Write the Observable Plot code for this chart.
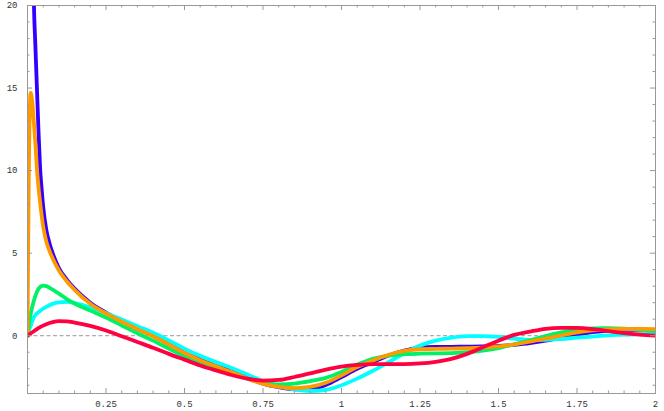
<!DOCTYPE html>
<html>
<head>
<meta charset="utf-8">
<script src="https://cdn.jsdelivr.net/npm/d3@7"></script>
<script src="https://cdn.jsdelivr.net/npm/@observablehq/plot@0.6"></script>
<style>
  html, body { margin: 0; padding: 0; background: #fff; }
</style>
</head>
<body>
<div id="chart"></div>
<script>
// ---- data ----
const tailX = [0.25,0.3,0.35,0.4,0.45,0.5,0.55,0.6,0.65,0.7,0.75,0.8,0.85,0.9,0.95,1,1.05,1.1,1.15,1.2,1.25,1.3,1.35,1.4,1.45,1.5,1.55,1.6,1.65,1.7,1.75,1.8,1.85,1.9,1.95,2];

const blueHeadX = [0.015,0.02,0.025,0.03,0.035,0.04,0.045,0.05,0.06,0.07,0.08,0.1,0.125,0.15,0.2];
const blueHeadY = [28,20.5,17.6,15.0,12.4,10.2,8.9,7.8,6.4,5.6,5.0,4.1,3.4,2.85,2.0];
const blueTailY = [1.4,0.88,0.42,0.0,-0.52,-1.05,-1.45,-1.8,-2.15,-2.55,-2.9,-3.12,-3.25,-3.22,-2.98,-2.5,-2.0,-1.6,-1.2,-0.9,-0.72,-0.68,-0.67,-0.66,-0.65,-0.62,-0.55,-0.45,-0.3,-0.1,0.08,0.22,0.31,0.35,0.36,0.35];

const orangeHeadX = [0,0.002,0.004,0.006,0.008,0.01,0.015,0.02,0.025,0.03,0.035,0.04,0.05,0.06,0.075,0.1,0.125,0.15,0.2];
const orangeHeadY = [0,5,9.5,12.5,14.2,14.7,14.2,13.0,11.7,10.1,9.0,8.1,6.6,5.7,4.9,3.95,3.3,2.78,1.93];
const orangeTailY = [1.35,0.85,0.4,-0.03,-0.53,-1.05,-1.48,-1.85,-2.2,-2.6,-2.92,-3.1,-3.17,-3.1,-2.85,-2.4,-1.9,-1.5,-1.15,-0.92,-0.82,-0.8,-0.78,-0.76,-0.72,-0.65,-0.52,-0.36,-0.18,0.02,0.2,0.32,0.39,0.41,0.41,0.4];

const greenHeadX = [0,0.01,0.02,0.03,0.04,0.05,0.06,0.075,0.1,0.125,0.15,0.2];
const greenHeadY = [0,1.3,2.1,2.65,2.95,3.03,3.0,2.85,2.55,2.22,1.95,1.52];
const greenTailY = [1.1,0.62,0.15,-0.3,-0.78,-1.25,-1.65,-2.0,-2.3,-2.6,-2.85,-2.95,-2.9,-2.75,-2.55,-2.2,-1.75,-1.4,-1.2,-1.12,-1.09,-1.07,-1.05,-1.0,-0.9,-0.75,-0.52,-0.28,-0.02,0.2,0.36,0.44,0.46,0.43,0.36,0.28];

const cyanHeadX = [0,0.005,0.01,0.02,0.04,0.06,0.08,0.1,0.125,0.15,0.2];
const cyanHeadY = [0,0.35,0.6,1.1,1.5,1.75,1.93,2.02,2.05,1.98,1.72];
const cyanTailY = [1.38,0.98,0.58,0.18,-0.28,-0.78,-1.22,-1.6,-1.95,-2.35,-2.75,-3.05,-3.25,-3.35,-3.28,-3.0,-2.6,-2.12,-1.6,-1.07,-0.6,-0.3,-0.12,-0.03,-0.02,-0.07,-0.18,-0.25,-0.25,-0.2,-0.12,-0.05,0.02,0.07,0.1,0.12];

const redHeadX = [0,0.02,0.04,0.06,0.08,0.1,0.125,0.15,0.2];
const redHeadY = [0,0.27,0.52,0.7,0.82,0.88,0.87,0.8,0.6];
const redTailY = [0.32,-0.03,-0.38,-0.73,-1.1,-1.45,-1.8,-2.1,-2.38,-2.6,-2.72,-2.68,-2.5,-2.28,-2.05,-1.87,-1.77,-1.72,-1.72,-1.72,-1.68,-1.58,-1.4,-1.1,-0.7,-0.3,0.05,0.25,0.42,0.48,0.47,0.4,0.28,0.16,0.07,0.0];

const xTicks = [0.25,0.5,0.75,1,1.25,1.5,1.75,2];
const xTickLabels = ["0.25","0.5","0.75","1","1.25","1.5","1.75","2"];
const yTicks = [0,5,10,15,20];
const yTickLabels = ["0","5","10","15","20"];

// ---- layout ----
const W = 664, H = 411;
const mL = 27, mR = 9, mT = 5, mB = 18;
const xDom = [0, 2], yDom = [-3.5, 20];
const ux = (xDom[1]-xDom[0])/(W-mL-mR);
const uy = (yDom[1]-yDom[0])/(H-mT-mB);

function rows(hx, hy, ty) {
  const r = hx.map((x,i)=>({x, y: hy[i]}));
  tailX.forEach((x,i)=> r.push({x, y: ty[i]}));
  return r;
}
const series = [
  {name:"blue",   color:"#3300ff", data: rows(blueHeadX, blueHeadY, blueTailY)},
  {name:"cyan",   color:"#00ffff", data: rows(cyanHeadX, cyanHeadY, cyanTailY)},
  {name:"green",  color:"#00f066", data: rows(greenHeadX, greenHeadY, greenTailY)},
  {name:"orange", color:"#ff9900", data: rows(orangeHeadX, orangeHeadY, orangeTailY)},
  {name:"red",    color:"#ff0040", data: rows(redHeadX, redHeadY, redTailY)}
];

const xMinor = d3.range(1, 40).map(i => i*0.05).filter(v => Math.abs(v/0.25 - Math.round(v/0.25)) > 1e-6);
const yMinor = d3.range(-3, 20).filter(v => v % 5 !== 0);
const tickColor = "#999";

const chart = Plot.plot({
  width: W, height: H,
  marginLeft: mL, marginRight: mR, marginTop: mT, marginBottom: mB,
  x: {domain: xDom},
  y: {domain: yDom},
  style: {fontFamily: "'Liberation Mono', 'DejaVu Sans Mono', monospace", fontSize: "9px", color: "#333", background: "#fff"},
  marks: [
    Plot.ruleY([0], {stroke: "#999", strokeDasharray: "4,2.5", strokeWidth: 1}),
    ...series.map(s => Plot.line(s.data, {x: "x", y: "y", stroke: s.color, strokeWidth: 3.8, curve: "monotone-x", clip: true, strokeLinejoin: "round"})),
    Plot.frame({stroke: "#999"}),
    // ticks, inward on all four sides
    Plot.ruleX(xTicks, {x: d=>d, y1: yDom[0], y2: yDom[0] + 5*uy, stroke: tickColor}),
    Plot.ruleX(xTicks, {x: d=>d, y1: yDom[1], y2: yDom[1] - 5*uy, stroke: tickColor}),
    Plot.ruleX(xMinor, {x: d=>d, y1: yDom[0], y2: yDom[0] + 2.5*uy, stroke: tickColor}),
    Plot.ruleX(xMinor, {x: d=>d, y1: yDom[1], y2: yDom[1] - 2.5*uy, stroke: tickColor}),
    Plot.ruleY(yTicks, {y: d=>d, x1: xDom[0], x2: xDom[0] + 5*ux, stroke: tickColor}),
    Plot.ruleY(yTicks, {y: d=>d, x1: xDom[1], x2: xDom[1] - 5*ux, stroke: tickColor}),
    Plot.ruleY(yMinor, {y: d=>d, x1: xDom[0], x2: xDom[0] + 2.5*ux, stroke: tickColor}),
    Plot.ruleY(yMinor, {y: d=>d, x1: xDom[1], x2: xDom[1] - 2.5*ux, stroke: tickColor}),
    Plot.axisX(xTicks, {anchor: "bottom", tickSize: 0, tickPadding: 7, tickFormat: (d,i) => xTickLabels[i], label: null}),
    Plot.axisY(yTicks, {anchor: "left", tickSize: 0, tickPadding: 10, tickFormat: (d,i) => yTickLabels[i], label: null})
  ]
});
document.getElementById("chart").appendChild(chart);
</script>
</body>
</html>
